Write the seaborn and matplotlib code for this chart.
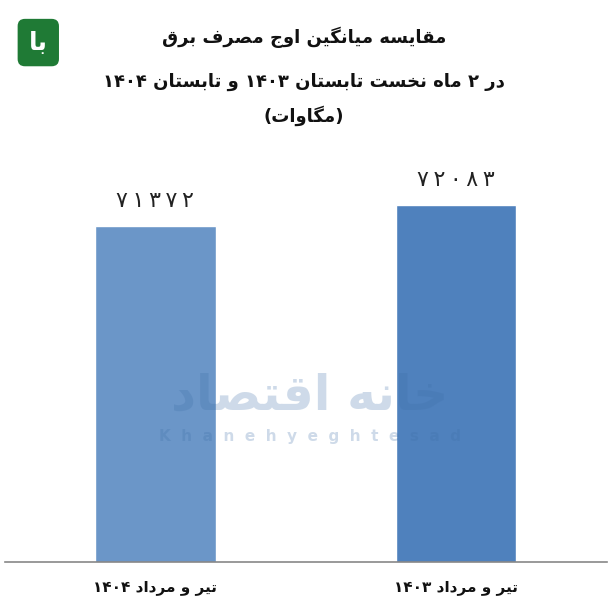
# peak electricity demand comparison, summer 1403 vs 1404
# two bars with persian labels (shaped by hand, no arabic_reshaper here)

import re
import matplotlib
matplotlib.use('Agg')
import matplotlib.pyplot as plt
import seaborn as sns
from matplotlib.patches import FancyBboxPatch

# data
periods = ['تیر و مرداد ۱۴۰۴', 'تیر و مرداد ۱۴۰۳']
peak_mw = [71372, 72083]
value_labels = ['۷۱۳۷۲', '۷۲۰۸۳']
bar_colors = ['#6b96c8', '#4f81bd']
title_lines = ['مقایسه میانگین اوج مصرف برق',
               'در ۲ ماه نخست تابستان ۱۴۰۳ و تابستان ۱۴۰۴',
               '(مگاوات)']

# presentation forms: isolated, final, initial, medial
FORMS = {
    'ا': ('\uFE8D', '\uFE8E', None, None),
    'ب': ('\uFE8F', '\uFE90', '\uFE91', '\uFE92'),
    'ت': ('\uFE95', '\uFE96', '\uFE97', '\uFE98'),
    'ج': ('\uFE9D', '\uFE9E', '\uFE9F', '\uFEA0'),
    'خ': ('\uFEA5', '\uFEA6', '\uFEA7', '\uFEA8'),
    'د': ('\uFEA9', '\uFEAA', None, None),
    'ر': ('\uFEAD', '\uFEAE', None, None),
    'س': ('\uFEB1', '\uFEB2', '\uFEB3', '\uFEB4'),
    'ص': ('\uFEB9', '\uFEBA', '\uFEBB', '\uFEBC'),
    'ف': ('\uFED1', '\uFED2', '\uFED3', '\uFED4'),
    'ق': ('\uFED5', '\uFED6', '\uFED7', '\uFED8'),
    'ل': ('\uFEDD', '\uFEDE', '\uFEDF', '\uFEE0'),
    'م': ('\uFEE1', '\uFEE2', '\uFEE3', '\uFEE4'),
    'ن': ('\uFEE5', '\uFEE6', '\uFEE7', '\uFEE8'),
    'ه': ('\uFEE9', '\uFEEA', '\uFEEB', '\uFEEC'),
    'و': ('\uFEED', '\uFEEE', None, None),
    'ی': ('\uFBFC', '\uFBFD', '\uFBFE', '\uFBFF'),
    'گ': ('\uFB92', '\uFB93', '\uFB94', '\uFB95'),
}
MIRROR = {'(': ')', ')': '('}


def dual(c):
    return c in FORMS and FORMS[c][2] is not None


def fa(text):
    out = []
    for i, c in enumerate(text):
        if c not in FORMS:
            out.append(c)
            continue
        prev = text[i - 1] if i > 0 else ''
        nxt = text[i + 1] if i + 1 < len(text) else ''
        jp = dual(prev)
        jn = dual(c) and nxt in FORMS
        iso, fin, ini, med = FORMS[c]
        if jp and jn:
            out.append(med)
        elif jp:
            out.append(fin)
        elif jn:
            out.append(ini)
        else:
            out.append(iso)
    runs = re.findall(r'[۰-۹0-9]+|.', ''.join(out))
    return ''.join(MIRROR.get(r, r) for r in reversed(runs))


sns.set_style('white')
plt.rcParams['font.family'] = ['DejaVu Sans']

fig = plt.figure(figsize=(6.08, 6.08), dpi=100)
ax = fig.add_axes([0.008, 0.0757, 0.99, 0.7286])

shaped = [fa(p) for p in periods]
sns.barplot(x=shaped, y=peak_mw, hue=shaped, palette=bar_colors,
            width=0.4, legend=False, ax=ax, saturation=1)

# spaced-out digits like the original
for cont, lab in zip(ax.containers, value_labels):
    ax.bar_label(cont, labels=['\u2009'.join(lab)], padding=11,
                 fontsize=16, color='#222222')

ax.set_ylim(60000, 75000)
ax.set_xlim(-0.5, 1.5)
ax.set_yticks([])
ax.set_ylabel('')
for s in ['left', 'right', 'top']:
    ax.spines[s].set_visible(False)
ax.spines['bottom'].set_color('#888888')
ax.spines['bottom'].set_linewidth(1.2)
ax.tick_params(axis='x', length=0, pad=13, labelsize=11)
for t in ax.get_xticklabels():
    t.set_fontweight('bold')
    t.set_color('#111111')

# title
for line, y in zip(title_lines, [0.939, 0.866, 0.809]):
    fig.text(0.5, y, fa(line), ha='center', va='center', fontsize=13,
             fontweight='bold', color='#111111')

# watermark
fig.text(0.51, 0.35, fa('خانه اقتصاد'), ha='center', va='center',
         fontsize=35, fontweight='bold', color='#3f6fa8', alpha=0.25,
         zorder=5)
fig.text(0.51, 0.282, '  '.join('Khanehyeghtesad'), ha='center',
         va='center', fontsize=11, fontweight='bold', color='#3f6fa8',
         alpha=0.25, zorder=5)

# logo
logo = FancyBboxPatch((0.033, 0.895), 0.06, 0.07,
                      boxstyle='round,pad=0.004,rounding_size=0.012',
                      transform=fig.transFigure, facecolor='#1f7a35',
                      edgecolor='none')
fig.patches.append(logo)
fig.text(0.063, 0.93, fa('با'), ha='center', va='center', fontsize=18,
         fontweight='bold', color='white')

fig.savefig('out.png', dpi=100)
